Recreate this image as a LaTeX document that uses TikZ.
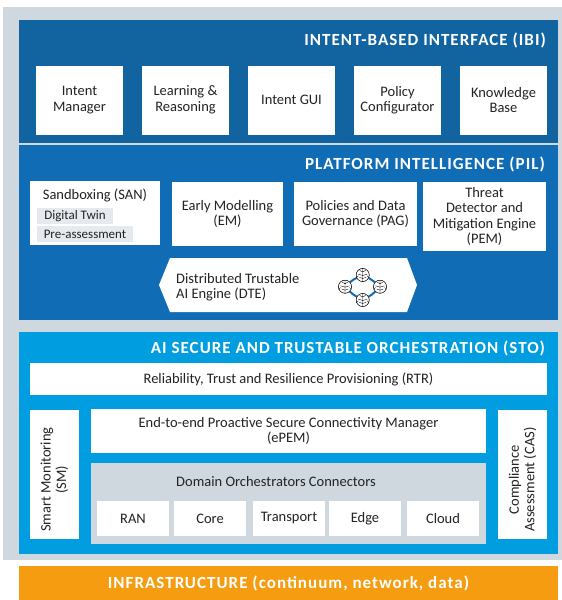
\documentclass[tikz,border=0pt]{standalone}
\usepackage{fontspec}
\setmainfont{Carlito}
\newfontfamily\titlefont[LetterSpace=6,BoldFont={Carlito Bold}]{Carlito}
\definecolor{bggray}{RGB}{207,215,223}
\definecolor{ibiblue}{RGB}{18,100,160}
\definecolor{pilblue}{RGB}{16,108,180}
\definecolor{stoblue}{RGB}{0,158,224}
\definecolor{infraorange}{RGB}{245,156,16}
\definecolor{chipgray}{RGB}{230,234,238}
\definecolor{inktext}{RGB}{35,35,35}
\newcommand{\bx}[7][]{%
  \pgfmathsetmacro{\cxx}{(#3+#5)/2}\pgfmathsetmacro{\cyy}{(#4+#6)/2}%
  \pgfmathsetmacro{\wdd}{#5-#3}\pgfmathsetmacro{\htt}{#6-#4}%
  \node[#1,minimum width=\wdd pt,minimum height=\htt pt] (#2) at (\cxx,\cyy) {#7};}
\newcommand{\brain}[3]{% name x y
  \node[brainnode] (#1) at (#2,#3) {};
  \draw[brainline] (#2,#3+6.6) -- (#2,#3-6.6)
    (#2,#3-3) -- ++(-3,-1.6) (#2,#3-3) -- ++(3,-1.6)
    (#2,#3+0.5) -- ++(-4.5,-1.4) (#2,#3+0.5) -- ++(4.5,-1.4)
    (#2,#3+3.5) -- ++(-3.4,-1.2) (#2,#3+3.5) -- ++(3.4,-1.2)
    (#2-6.2,#3+2.5) arc[start angle=200,end angle=250,radius=3]
    (#2+6.2,#3+2.5) arc[start angle=-20,end angle=-70,radius=3];
}
\tikzset{
  panel/.style={draw=none,fill=#1,inner sep=0pt,outer sep=0pt},
  whitebox/.style={panel=white,text=inktext,align=center,font=\fontsize{14.5}{15.5}\selectfont},
  smallbox/.style={whitebox,font=\fontsize{14.5}{15.5}\selectfont},
  chip/.style={panel=chipgray,text=inktext,font=\fontsize{13}{14}\selectfont,anchor=center},
  titletext/.style={text=white,anchor=east,inner sep=0pt,font=\titlefont\bfseries\fontsize{17}{18}\selectfont},
  plaintext/.style={text=inktext,inner sep=0pt,font=\fontsize{14.5}{15.5}\selectfont},
  brainnode/.style={circle,draw=black,line width=0.45pt,fill=white,minimum size=13pt,inner sep=0pt,outer sep=0pt},
  brainline/.style={draw=black,line width=0.35pt},
  ringlink/.style={draw=pilblue,line width=2pt},
}
\begin{document}
\begin{tikzpicture}[x=1pt,y=-1pt]
\useasboundingbox (0,0) rectangle (562,600);
% backgrounds
\bx[panel=bggray]{bg}{3}{6.5}{562}{560}{}
\bx[panel=ibiblue]{ibi}{19}{20}{558}{143}{}
\bx[panel=pilblue]{pil}{19}{145}{558}{320}{}
\bx[panel=stoblue]{sto}{19}{332}{558}{554}{}
\bx[panel=infraorange,text=white,font=\titlefont\bfseries\fontsize{17}{18}\selectfont]{infra}{19}{566}{558}{600}{INFRASTRUCTURE (continuum, network, data)}
% titles
\node[titletext] (ibititle) at (546,40) {INTENT-BASED INTERFACE (IBI)};
\node[titletext] (piltitle) at (545,164.5) {PLATFORM INTELLIGENCE (PIL)};
\node[titletext] (stotitle) at (545,348.5) {AI SECURE AND TRUSTABLE ORCHESTRATION (STO)};
% IBI
\bx[whitebox]{im}{36}{65.5}{123}{134.5}{Intent\\Manager}
\bx[whitebox]{lr}{142}{65.5}{229}{134.5}{Learning \&\\Reasoning}
\bx[whitebox]{gui}{248}{65.5}{335}{134.5}{Intent GUI}
\bx[whitebox]{pc}{354}{65.5}{441}{134.5}{Policy\\Configurator}
\bx[whitebox]{kb}{460}{65.5}{547}{134.5}{Knowledge\\Base}
% PIL
\bx[panel=white]{san}{30}{181}{160}{245}{}
\node[plaintext] (santitle) at (95,195) {Sandboxing (SAN)};
\bx[chip]{twin}{37}{208}{113}{224}{Digital Twin}
\bx[chip]{pre}{37}{226}{133}{242}{Pre-assessment}
\bx[whitebox]{em}{172}{182}{283}{246}{Early Modelling\\(EM)}
\bx[whitebox]{pag}{294}{182}{417}{246}{Policies and Data\\Governance (PAG)}
\bx[whitebox]{pem}{423}{182}{546}{251}{Threat\\Detector and\\Mitigation Engine\\(PEM)}
\node[panel=white,minimum width=0pt] (dte) at (288,285) {};
\fill[white] (159,285) -- (170,258) -- (407,258) -- (417,285) -- (407,312) -- (170,312) -- cycle;
\node[plaintext,align=left,anchor=west] (dtetext) at (176,287) {Distributed Trustable\\AI Engine (DTE)};
% brain ring
\coordinate (bt) at (362.7,275);
\brain{bt}{362.7}{275}
\brain{bl}{345}{286.7}
\brain{br}{380}{286.7}
\brain{bb}{362.7}{300}
\begin{scope}[on background layer/.try]
\end{scope}
\draw[ringlink] (bt) to[bend left=8] (br);
\draw[ringlink] (br) to[bend left=8] (bb);
\draw[ringlink] (bb) to[bend left=8] (bl);
\draw[ringlink] (bl) to[bend left=8] (bt);
\brain{bt}{362.7}{275}
\brain{bl}{345}{286.7}
\brain{br}{380}{286.7}
\brain{bb}{362.7}{300}
% STO
\bx[whitebox]{rtr}{30}{363}{547}{395}{Reliability, Trust and Resilience Provisioning (RTR)}
\bx[whitebox]{epem}{91}{409}{486}{453}{End-to-end Proactive Secure Connectivity Manager\\(ePEM)}
\bx[panel=bggray]{dom}{91}{463}{486}{544}{}
\node[plaintext] (domtitle) at (276,482) {Domain Orchestrators Connectors};
\bx[smallbox]{ran}{97}{501}{169}{536}{RAN}
\bx[smallbox]{core}{174}{501}{246}{536}{Core}
\bx[smallbox]{trans}{253}{501}{325}{536}{Transport}
\bx[smallbox]{edge}{329}{501}{401}{536}{Edge}
\bx[smallbox]{cloud}{407}{501}{479}{536}{Cloud}
\bx[panel=white]{sm}{30}{410}{79}{539}{}
\bx[panel=white]{cas}{498}{410}{547}{539}{}
\node[plaintext,rotate=90,align=center,anchor=west] (smtext) at (54.5,532) {Smart Monitoring\\(SM)};
\node[plaintext,rotate=90,align=center,anchor=west] (castext) at (522.5,532) {Compliance\\Assessment (CAS)};
\end{tikzpicture}
\end{document}
